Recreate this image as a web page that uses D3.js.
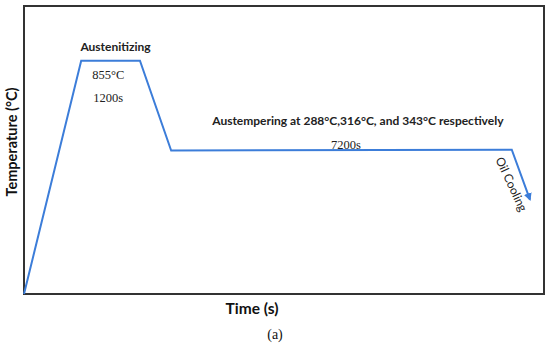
<!DOCTYPE html>
<html>
<head>
<meta charset="utf-8">
<script src="https://cdn.jsdelivr.net/npm/d3@7"></script>
<style>
  body { margin: 0; background: #fff; }
  svg { display: block; }
</style>
</head>
<body>
<div id="chart"></div>
<script>
// heat treatment schedule, time and temperature in relative units (0-100)
const timePoints = [0, 11, 22.3, 28.3, 93.8, 97.3];
const tempPoints = [0, 81, 81, 49.8, 50.1, 32.8];

const stageLabels = [
  { text: "Austenitizing", t: 17.6, temp: 84.5, cls: "bold" },
  { text: "855°C", t: 16.2, temp: 74.5, cls: "serif" },
  { text: "1200s", t: 16.2, temp: 66.5, cls: "serif" },
  { text: "Austempering at 288°C,316°C, and 343°C respectively", t: 64.2, temp: 58.6, cls: "bold" },
  { text: "7200s", t: 61.9, temp: 50.2, cls: "serif" }
];

const width = 550, height = 348;
const margin = { top: 6, right: 6, bottom: 54, left: 24 };

const svg = d3.select("#chart").append("svg")
  .attr("width", width)
  .attr("height", height);

const x = d3.scaleLinear().domain([0, 100]).range([margin.left, width - margin.right]);
const y = d3.scaleLinear().domain([0, 100]).range([height - margin.bottom, margin.top]);

svg.append("defs").append("marker")
  .attr("id", "arrow")
  .attr("viewBox", "0 0 10 10")
  .attr("refX", 8).attr("refY", 5)
  .attr("markerWidth", 4).attr("markerHeight", 4)
  .attr("orient", "auto")
  .append("path")
  .attr("d", "M0,0L10,5L0,10z")
  .attr("fill", "#3c7dd9");

// frame
svg.append("rect")
  .attr("x", x(0)).attr("y", y(100))
  .attr("width", x(100) - x(0))
  .attr("height", y(0) - y(100))
  .attr("fill", "none")
  .attr("stroke", "#333")
  .attr("stroke-width", 2);

const pts = timePoints.map((t, i) => [t, tempPoints[i]]);

svg.append("path")
  .datum(pts)
  .attr("d", d3.line().x(d => x(d[0])).y(d => y(d[1])))
  .attr("fill", "none")
  .attr("stroke", "#3c7dd9")
  .attr("stroke-width", 2)
  .attr("stroke-linejoin", "miter")
  .attr("marker-end", "url(#arrow)");

svg.selectAll("text.stage")
  .data(stageLabels)
  .enter().append("text")
  .attr("class", "stage")
  .attr("x", d => x(d.t))
  .attr("y", d => y(d.temp))
  .attr("text-anchor", "middle")
  .attr("fill", "#222")
  .style("font-family", d => d.cls === "serif" ? "'Liberation Serif', serif" : "Lato, sans-serif")
  .style("font-weight", d => d.cls === "bold" ? "bold" : "normal")
  .style("font-size", d => d.cls === "serif" ? "12.5px" : "12px")
  .text(d => d.text);

// oil cooling, slanted along the quench
svg.append("text")
  .attr("transform", "translate(" + x(93.0) + "," + y(37.5) + ")rotate(65)")
  .attr("text-anchor", "middle")
  .attr("fill", "#222")
  .style("font-family", "Lato, sans-serif")
  .style("font-size", "12px")
  .text("Oil Cooling");

// axis titles
svg.append("text")
  .attr("transform", "translate(17," + 142 + ")rotate(-90)")
  .attr("text-anchor", "middle")
  .style("font-family", "Lato, sans-serif")
  .style("font-weight", "bold")
  .style("font-size", "14.5px")
  .attr("fill", "#111")
  .text("Temperature (°C)");

svg.append("text")
  .attr("x", 252).attr("y", 314)
  .attr("text-anchor", "middle")
  .style("font-family", "Lato, sans-serif")
  .style("font-weight", "bold")
  .style("font-size", "15.5px")
  .attr("fill", "#111")
  .text("Time (s)");

svg.append("text")
  .attr("x", 275).attr("y", 339)
  .attr("text-anchor", "middle")
  .style("font-family", "'Liberation Serif', serif")
  .style("font-size", "14px")
  .attr("fill", "#111")
  .text("(a)");
</script>
</body>
</html>
